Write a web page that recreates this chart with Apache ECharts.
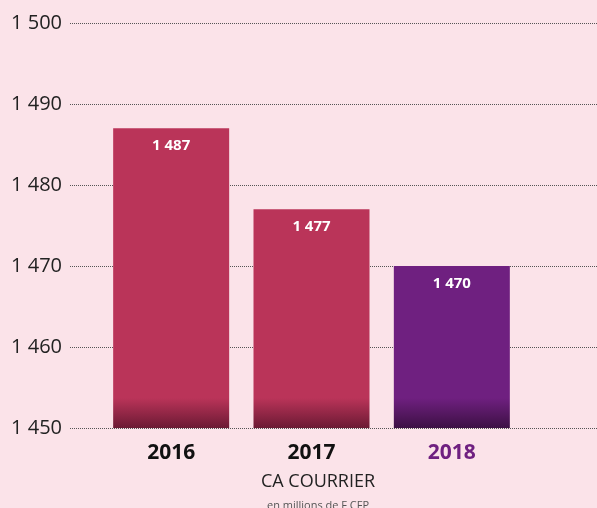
<!DOCTYPE html>
<html>
<head>
<meta charset="utf-8">
<script src="https://cdn.jsdelivr.net/npm/echarts@6/dist/echarts.min.js"></script>
<style>
  html, body { margin: 0; padding: 0; background: #fbe3e9; }
  #chart { width: 597px; height: 508px; }
</style>
</head>
<body>
<div id="chart"></div>
<script>
// data
var years = ['2016', '2017', '2018'];
var values = [1487, 1477, 1470];
var yTicks = [1450, 1460, 1470, 1480, 1490, 1500];

var chart = echarts.init(document.getElementById('chart'));

function fmt(v) {
    return String(v).replace(/\B(?=(\d{3})+(?!\d))/g, ' ');
}

// bottom ~30px of each bar goes darker
function shade(top, bottom) {
    return {
        type: 'linear', x: 0, y: 398, x2: 0, y2: 428, global: true,
        colorStops: [{ offset: 0, color: top }, { offset: 1, color: bottom }]
    };
}
var pink = shade('#ba3459', '#6c1a34');
var purple = shade('#6f2080', '#3d1044');

var option = {
    backgroundColor: '#fbe3e9',
    animation: false,
    grid: [
        { left: 70, right: 0, top: 23, bottom: 80 },   // split lines, full width
        { left: 101, right: 75, top: 23, bottom: 80 }  // bars
    ],
    xAxis: [{
        gridIndex: 0, type: 'value', show: false
    }, {
        gridIndex: 1,
        type: 'category',
        data: years,
        axisLine: { show: false },
        axisTick: { show: false },
        axisLabel: {
            margin: 15,
            fontFamily: 'Open Sans',
            fontWeight: 'bold',
            fontSize: 21,
            color: function (v) { return v === '2018' ? '#6f2080' : '#111'; }
        }
    }],
    yAxis: [{
        gridIndex: 0,
        type: 'value',
        min: yTicks[0],
        max: yTicks[yTicks.length - 1],
        interval: 10,
        axisLine: { show: false },
        axisTick: { show: false },
        splitLine: { lineStyle: { type: 'dotted', color: '#555', width: 1 } },
        axisLabel: {
            margin: 8,
            fontFamily: 'Open Sans',
            fontSize: 20,
            color: '#222',
            formatter: fmt
        }
    }, {
        gridIndex: 1,
        type: 'value',
        min: yTicks[0],
        max: yTicks[yTicks.length - 1],
        show: false
    }],
    series: [{
        type: 'bar',
        xAxisIndex: 1,
        yAxisIndex: 1,
        barWidth: 116,
        data: values.map(function (v, i) {
            return { value: v, itemStyle: { color: i === 2 ? purple : pink } };
        }),
        label: {
            show: true,
            position: 'insideTop',
            distance: 10,
            fontFamily: 'Open Sans',
            fontWeight: 'bold',
            fontSize: 15,
            color: '#fff',
            formatter: function (p) { return fmt(p.value); }
        }
    }],
    title: [{
        text: 'CA COURRIER',
        left: 313, top: 468, textAlign: 'center',
        textStyle: { fontFamily: 'Open Sans', fontWeight: 'normal', fontSize: 18, color: '#222' }
    }, {
        text: 'en millions de F CFP',
        left: 313, top: 495, textAlign: 'center',
        textStyle: { fontFamily: 'Open Sans', fontWeight: 'normal', fontSize: 11, color: '#555' }
    }]
};
chart.setOption(option);
</script>
</body>
</html>
